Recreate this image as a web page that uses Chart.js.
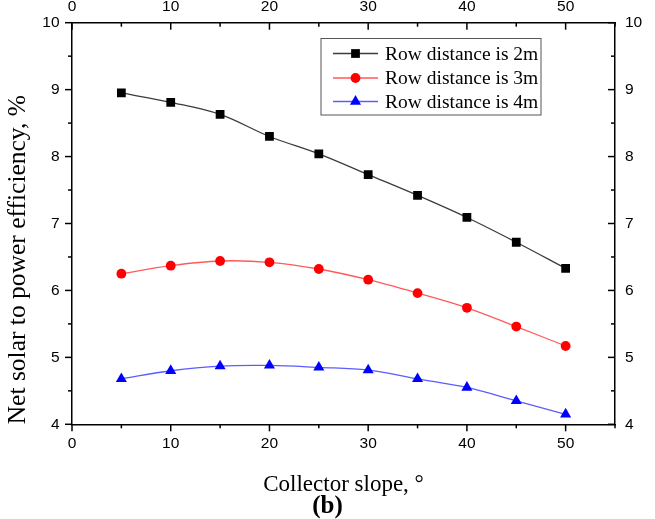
<!DOCTYPE html>
<html>
<head>
<meta charset="utf-8">
<script src="https://cdn.jsdelivr.net/npm/chart.js@4.4.1/dist/chart.umd.min.js"></script>
<style>
html,body{margin:0;padding:0;background:#fff}
#wrap{width:655px;height:519px;position:relative}
</style>
</head>
<body>
<div id="wrap"><canvas id="chart"></canvas></div>
<script>
// values (b)
const slopes = [5,10,15,20,25,30,35,40,45,50];
const eff2m = [8.95,8.81,8.63,8.30,8.04,7.73,7.42,7.09,6.72,6.33];
const eff3m = [6.25,6.37,6.44,6.42,6.32,6.16,5.96,5.74,5.46,5.17];
const eff4m = [4.68,4.80,4.87,4.88,4.85,4.81,4.68,4.55,4.35,4.15];
const seriesNames = ["Row distance is 2m","Row distance is 3m","Row distance is 4m"];
const xTickVals = [0,10,20,30,40,50];
const yTickVals = [4,5,6,7,8,9,10];
const X_MIN = 0, X_MAX = 55, Y_MIN = 4, Y_MAX = 10;

const SERIF = '"Liberation Serif","Times New Roman",serif';
const SANS = '"Liberation Sans",Arial,sans-serif';

const toXY = vals => vals.map((v,i)=>({x:slopes[i],y:v}));

function mkDataset(label, vals, line, fill, style, r) {
  return {label, data:toXY(vals), borderColor:line, borderWidth:1.3, tension:0.35,
    pointStyle:style, pointRadius:r, pointHoverRadius:r, pointBackgroundColor:fill,
    pointBorderColor:fill, pointBorderWidth:0, fill:false, xAxisID:"x", yAxisID:"y"};
}

const datasets = [
  mkDataset(seriesNames[0], eff2m, "#3c3c3c", "#000000", "rect", 6.2),
  mkDataset(seriesNames[1], eff3m, "#ff5a5a", "#ff0000", "circle", 4.9),
  mkDataset(seriesNames[2], eff4m, "#5c5cff", "#0000ff", "triangle", 6.4),
];

function drawMarker(ctx, style, r, x, y, color) {
  ctx.save();
  ctx.fillStyle = color;
  ctx.beginPath();
  if (style==="rect") { const s=r*Math.SQRT1_2; ctx.rect(x-s,y-s,2*s,2*s); }
  else if (style==="circle") { ctx.arc(x,y,r,0,Math.PI*2); }
  else {
    ctx.moveTo(x, y-r);
    ctx.lineTo(x+r*Math.sin(Math.PI/3), y+r/2);
    ctx.lineTo(x-r*Math.sin(Math.PI/3), y+r/2);
    ctx.closePath();
  }
  ctx.fill();
  ctx.restore();
}

// tick marks like the Origin plot (major + one minor between)
const tickMarks = {
  id:"tickMarks",
  afterDraw(chart) {
    const ctx = chart.ctx, s = chart.scales;
    ctx.save();
    ctx.strokeStyle = "#000"; ctx.lineWidth = 1.5;
    const hor = (scale, y, dir) => {
      for (let v=X_MIN; v<=X_MAX; v+=5) {
        const len = v%10===0 ? 7 : 4, px = scale.getPixelForValue(v);
        ctx.beginPath(); ctx.moveTo(px,y); ctx.lineTo(px,y+dir*len); ctx.stroke();
      }
    };
    const ver = (scale, x, dir) => {
      for (let v=Y_MIN; v<=Y_MAX+1e-9; v+=0.5) {
        const len = Math.abs(v-Math.round(v))<1e-9 ? 7 : 4, py = scale.getPixelForValue(v);
        ctx.beginPath(); ctx.moveTo(x,py); ctx.lineTo(x+dir*len,py); ctx.stroke();
      }
    };
    const a = chart.chartArea;
    hor(s.x, a.bottom, 1);
    hor(s.x2, a.top, 1);
    ver(s.y, a.left, -1);
    ver(s.y2, a.right, -1);
    ctx.restore();
  }
};

const innerLegend = {
  id:"innerLegend",
  afterDatasetsDraw(chart) {
    const ctx = chart.ctx;
    const bx = 321, by = 38.5, bw = 220, bh = 76.5;
    ctx.save();
    ctx.fillStyle = "#fff"; ctx.fillRect(bx,by,bw,bh);
    ctx.strokeStyle = "#555"; ctx.lineWidth = 1; ctx.strokeRect(bx,by,bw,bh);
    const rows = [53.5, 78, 101.5];
    chart.data.datasets.forEach((ds,i)=>{
      const y = rows[i];
      ctx.strokeStyle = ds.borderColor; ctx.lineWidth = 1.3;
      ctx.beginPath(); ctx.moveTo(333,y); ctx.lineTo(378,y); ctx.stroke();
      drawMarker(ctx, ds.pointStyle, ds.pointRadius, 355.5, y, ds.pointBackgroundColor);
      ctx.fillStyle = "#000"; ctx.font = "19.5px "+SERIF;
      ctx.textAlign = "left"; ctx.textBaseline = "middle";
      ctx.fillText(ds.label, 385, y+1);
    });
    ctx.restore();
  }
};

const tickFont = {family:SANS, size:15.5};
const fixTicks = vals => scale => { scale.ticks = vals.map(v=>({value:v})); };
const axisBase = {
  grid:{display:false, drawTicks:false},
  border:{display:true, color:"#000", width:1.5},
};

new Chart(document.getElementById("chart"), {
  type:"line",
  data:{datasets},
  plugins:[tickMarks, innerLegend],
  options:{
    responsive:true, maintainAspectRatio:false, animation:false,
    layout:{padding:0},
    plugins:{
      legend:{display:false},
      tooltip:{enabled:false},
      title:{display:true, position:"bottom", text:"(b)", color:"#000",
        font:{family:SERIF, size:25, weight:"bold", lineHeight:1}, padding:{top:0,bottom:0}},
    },
    scales:{
      x:{...axisBase, type:"linear", position:"bottom", min:X_MIN, max:X_MAX,
        afterBuildTicks:fixTicks(xTickVals),
        afterFit:s=>{ s.height = 69.7; },
        ticks:{font:tickFont, color:"#000", padding:10, maxRotation:0},
        title:{display:true, text:"Collector slope, °", color:"#000",
          font:{family:SERIF, size:23, lineHeight:1}, padding:{top:0,bottom:-2}}},
      x2:{...axisBase, type:"linear", position:"top", min:X_MIN, max:X_MAX,
        afterBuildTicks:fixTicks(xTickVals),
        afterFit:s=>{ s.height = 22.7; },
        ticks:{font:tickFont, color:"#000", padding:7, maxRotation:0}},
      y:{...axisBase, type:"linear", position:"left", min:Y_MIN, max:Y_MAX,
        afterBuildTicks:fixTicks(yTickVals),
        afterFit:s=>{ s.width = 72; },
        ticks:{font:tickFont, color:"#000", padding:12.5},
        title:{display:true, text:"Net solar to power efficiency, %", color:"#000", align:"start",
          font:{family:SERIF, size:25.5}, padding:{top:3,bottom:0}}},
      y2:{...axisBase, type:"linear", position:"right", min:Y_MIN, max:Y_MAX,
        afterBuildTicks:fixTicks(yTickVals),
        afterFit:s=>{ s.width = 40; },
        ticks:{font:tickFont, color:"#000", padding:10}},
    },
  },
});
</script>
</body>
</html>
